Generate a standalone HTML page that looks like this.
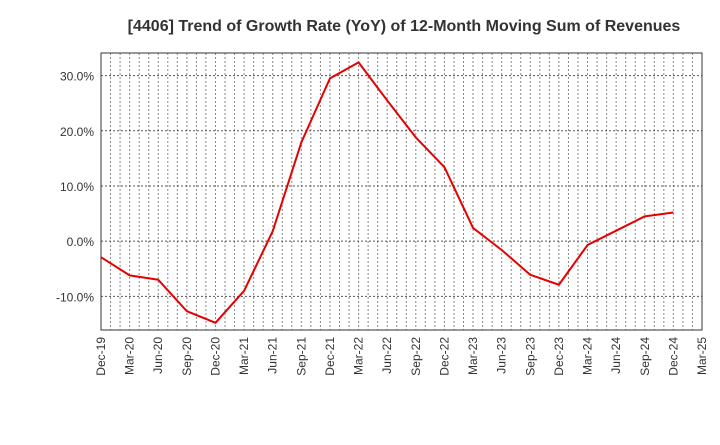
<!DOCTYPE html>
<html><head><meta charset="utf-8"><style>
body{margin:0;background:#fff;font-family:"Liberation Sans",sans-serif}
</style></head><body>
<svg id="c" width="720" height="440" xmlns="http://www.w3.org/2000/svg">
<text x="404" y="31" text-anchor="middle" font-size="16" font-weight="bold" fill="#333">[4406]  Trend of Growth Rate (YoY) of 12-Month Moving Sum of Revenues</text>
<g id="grid"></g>
<g id="axes"></g>
<g id="series"></g>
</svg>
<script>
const categories=["Dec-19","Mar-20","Jun-20","Sep-20","Dec-20","Mar-21","Jun-21","Sep-21","Dec-21","Mar-22","Jun-22","Sep-22","Dec-22","Mar-23","Jun-23","Sep-23","Dec-23","Mar-24","Jun-24","Sep-24","Dec-24","Mar-25"];
const values=[-2.9,-6.2,-7.0,-12.7,-14.8,-9.0,1.8,17.9,29.5,32.4,25.5,18.8,13.4,2.4,-1.6,-6.1,-7.9,-0.7,1.9,4.5,5.2];
const yTicks=[-10,0,10,20,30];
const yTickLabels=["-10.0%","0.0%","10.0%","20.0%","30.0%"];
const L=101,R=702,T=53,B=330,yMin=-16.1,yMax=34.1;
const NS="http://www.w3.org/2000/svg";
const xs=i=>L+(R-L)*i/(categories.length-1);
const ys=v=>B-(v-yMin)/(yMax-yMin)*(B-T);
function mk(tag,attrs,parent){const e=document.createElementNS(NS,tag);for(const k in attrs)e.setAttribute(k,attrs[k]);document.getElementById(parent).appendChild(e);return e;}
const months=(categories.length-1)*3;
for(let m=1;m<months;m++){const x=L+(R-L)*m/months;
const g=mk('line',{x1:x,x2:x,y1:T,y2:B,stroke:'#888','stroke-width':1,'stroke-dasharray':'2,2'},'grid');

}
yTicks.forEach((v,i)=>{const y=ys(v);
const g=mk('line',{x1:L,x2:R,y1:y,y2:y,stroke:'#555','stroke-width':1,'stroke-dasharray':'2,2'},'grid');


const t=mk('text',{x:L-7,y:y+5,'text-anchor':'end','font-size':12,fill:'#333'},'axes');t.textContent=yTickLabels[i];

});
const fr=mk('rect',{x:L,y:T,width:R-L,height:B-T,fill:'none',stroke:'#333','stroke-width':1},'axes');


categories.forEach((c,i)=>{const x=xs(i);
const t=mk('text',{x:0,y:0,'text-anchor':'end','font-size':12,fill:'#333',transform:`translate(${x+4},${B+7}) rotate(-90)`},'axes');t.textContent=c;

});
const p=mk('polyline',{points:values.map((v,i)=>xs(i)+','+ys(v)).join(' '),fill:'none',stroke:'#e60000','stroke-width':2,'stroke-linejoin':'round'},'series');


</script>
</body></html>
